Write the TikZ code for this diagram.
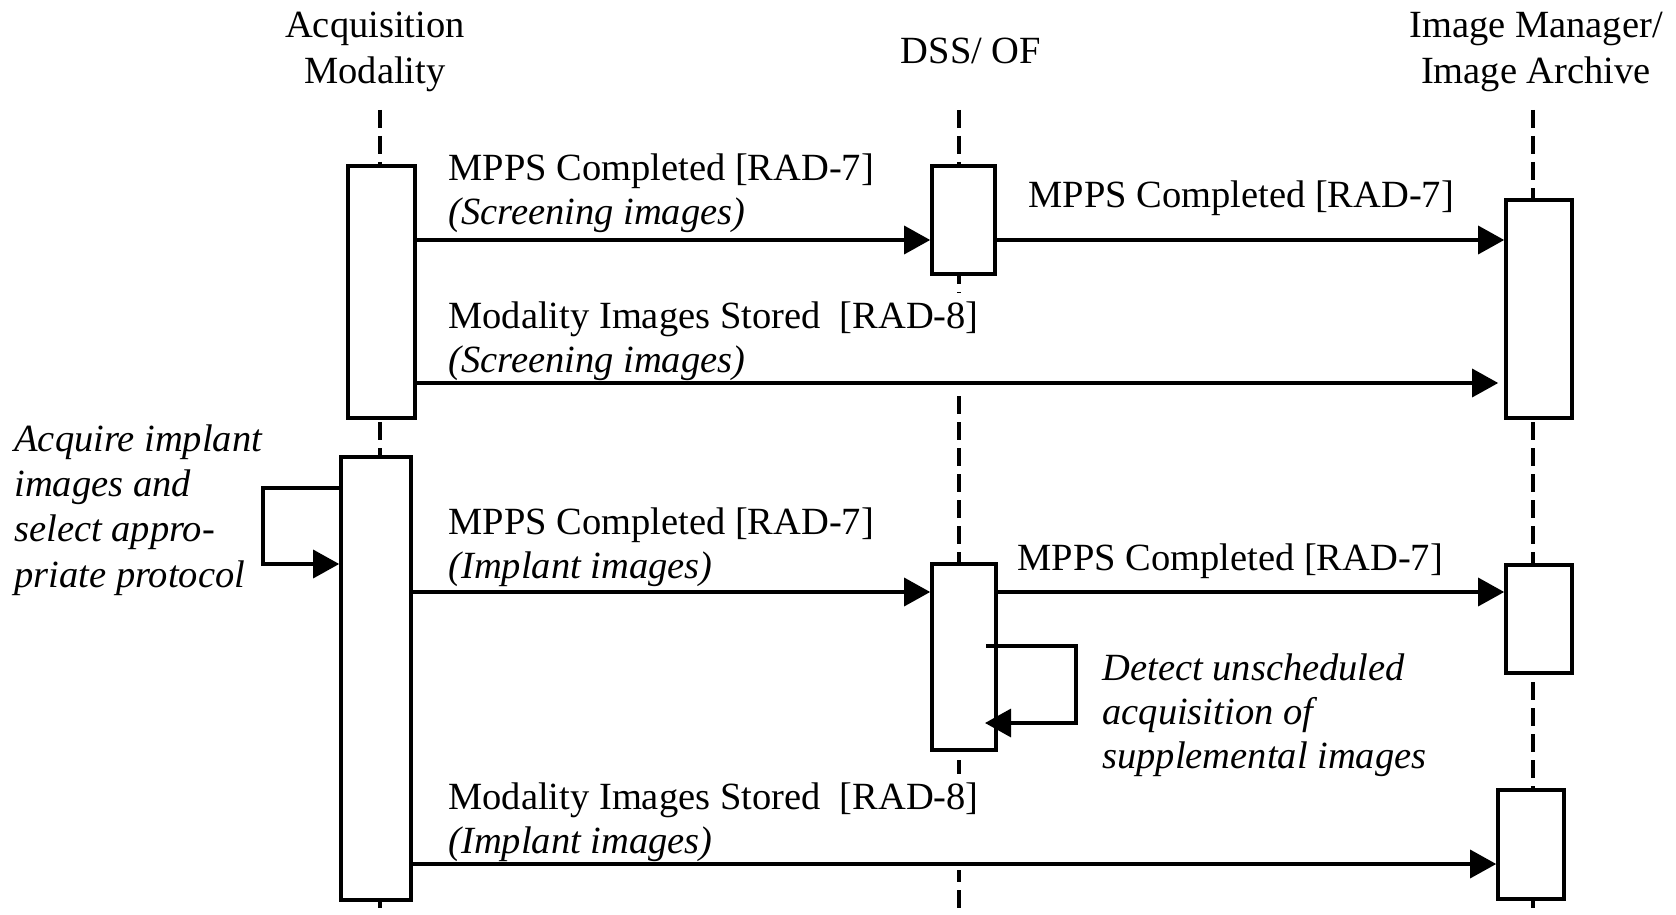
\documentclass[tikz,border=0pt]{standalone}
\usepackage{fontspec}
\setmainfont{Liberation Serif}
\usetikzlibrary{arrows.meta,fit}
\begin{document}
\begin{tikzpicture}[x=0.5pt,y=-0.5pt,
  txt/.style={font=\fontsize{19.25}{22}\selectfont, inner xsep=0pt, inner ysep=2pt},
  ttl/.style={txt, font=\fontsize{19.25}{23.5}\selectfont},
  lbl/.style={txt, fill=white, anchor=base west},
  notetext/.style={txt, anchor=base west},
  actbox/.style={draw, fill=white, line width=1.8pt, inner sep=0pt},
  life/.style={line width=1.6pt, dash pattern=on 9pt off 4pt},
  msg/.style={line width=1.6pt, -{Triangle[length=13pt,width=14pt]}}
]
\fill[white] (0,0) rectangle (1676,915);
\useasboundingbox (0,0) rectangle (1676,915);

% titles
\node[ttl, anchor=base] (tA) at (375,84) {\begin{tabular}[b]{@{}c@{}}Acquisition\\Modality\end{tabular}};
\node[ttl, anchor=base] (tD) at (971,64) {DSS/ OF};
\node[ttl, anchor=base] (tI) at (1536,84) {\begin{tabular}[b]{@{}c@{}}Image Manager/\\Image Archive\end{tabular}};

% lifelines
\coordinate (Atop) at (380,110); \coordinate (Abot) at (380,915);
\coordinate (Dtop) at (959,110); \coordinate (Dbot) at (959,915);
\coordinate (Itop) at (1533,110); \coordinate (Ibot) at (1533,915);
\draw[life] (Atop) -- (Abot);
\draw[life] (Dtop) -- (Dbot);
\draw[life] (Itop) -- (Ibot);

% message labels
\node[lbl] (L1) at (448,224) {\begin{tabular}[b]{@{}l@{}}MPPS Completed [RAD-7]\\\textit{(Screening images)}\end{tabular}};
\node[lbl] (L2) at (448,372) {\begin{tabular}[b]{@{}l@{}}Modality Images Stored\ \ [RAD-8]\\\textit{(Screening images)}\end{tabular}};
\node[lbl] (L3) at (448,578) {\begin{tabular}[b]{@{}l@{}}MPPS Completed [RAD-7]\\\textit{(Implant images)}\end{tabular}};
\node[lbl] (L4) at (448,853) {\begin{tabular}[b]{@{}l@{}}Modality Images Stored\ \ [RAD-8]\\\textit{(Implant images)}\end{tabular}};
\node[lbl] (M1) at (1028,207) {MPPS Completed [RAD-7]};
\node[lbl] (M2) at (1017,570) {MPPS Completed [RAD-7]};

% notes
\node[notetext, font=\fontsize{19.25}{22.6}\selectfont\itshape] (nA) at (14,587)
  {\begin{tabular}[b]{@{}l@{}}Acquire implant\\images and\\select appro-\\priate protocol\end{tabular}};
\node[notetext, font=\fontsize{19.25}{22}\selectfont\itshape] (nD) at (1102,768)
  {\begin{tabular}[b]{@{}l@{}}Detect unscheduled\\acquisition of\\supplemental images\end{tabular}};

% activation boxes
\node[actbox, fit={(348,166) (415,418)}] (A1) {};
\node[actbox, fit={(341,457) (411,900)}] (A2) {};
\node[actbox, fit={(932,166) (995,274)}] (D1) {};
\node[actbox, fit={(932,564) (996,750)}] (D2) {};
\node[actbox, fit={(1506,200) (1572,418)}] (I1) {};
\node[actbox, fit={(1506,565) (1572,673)}] (I2) {};
\node[actbox, fit={(1498,790) (1564,899)}] (I3) {};

% messages
\coordinate (y1) at (0,240);
\coordinate (y2) at (0,383);
\coordinate (y3) at (0,592);
\coordinate (y4) at (0,864);
\draw[msg] (A1.east |- y1) -- (D1.west |- y1);
\draw[msg] (D1.east |- y1) -- (I1.west |- y1);
\draw[msg, shorten >=3pt] (A1.east |- y2) -- (I1.west |- y2);
\draw[msg] (A2.east |- y3) -- (D2.west |- y3);
\draw[msg] (D2.east |- y3) -- (I2.west |- y3);
\draw[msg] (A2.east |- y4) -- (I3.west |- y4);

% self loops
\coordinate (la) at (263,488); \coordinate (lb) at (263,564);
\draw[msg] (A2.west |- la) -- (la) -- (lb) -- (A2.west |- lb);
\coordinate (ds) at (986,646); \coordinate (da) at (1076,646);
\coordinate (db) at (1076,723); \coordinate (de) at (985,723);
\draw[msg] (ds) -- (da) -- (db) -- (de);
\end{tikzpicture}
\end{document}
